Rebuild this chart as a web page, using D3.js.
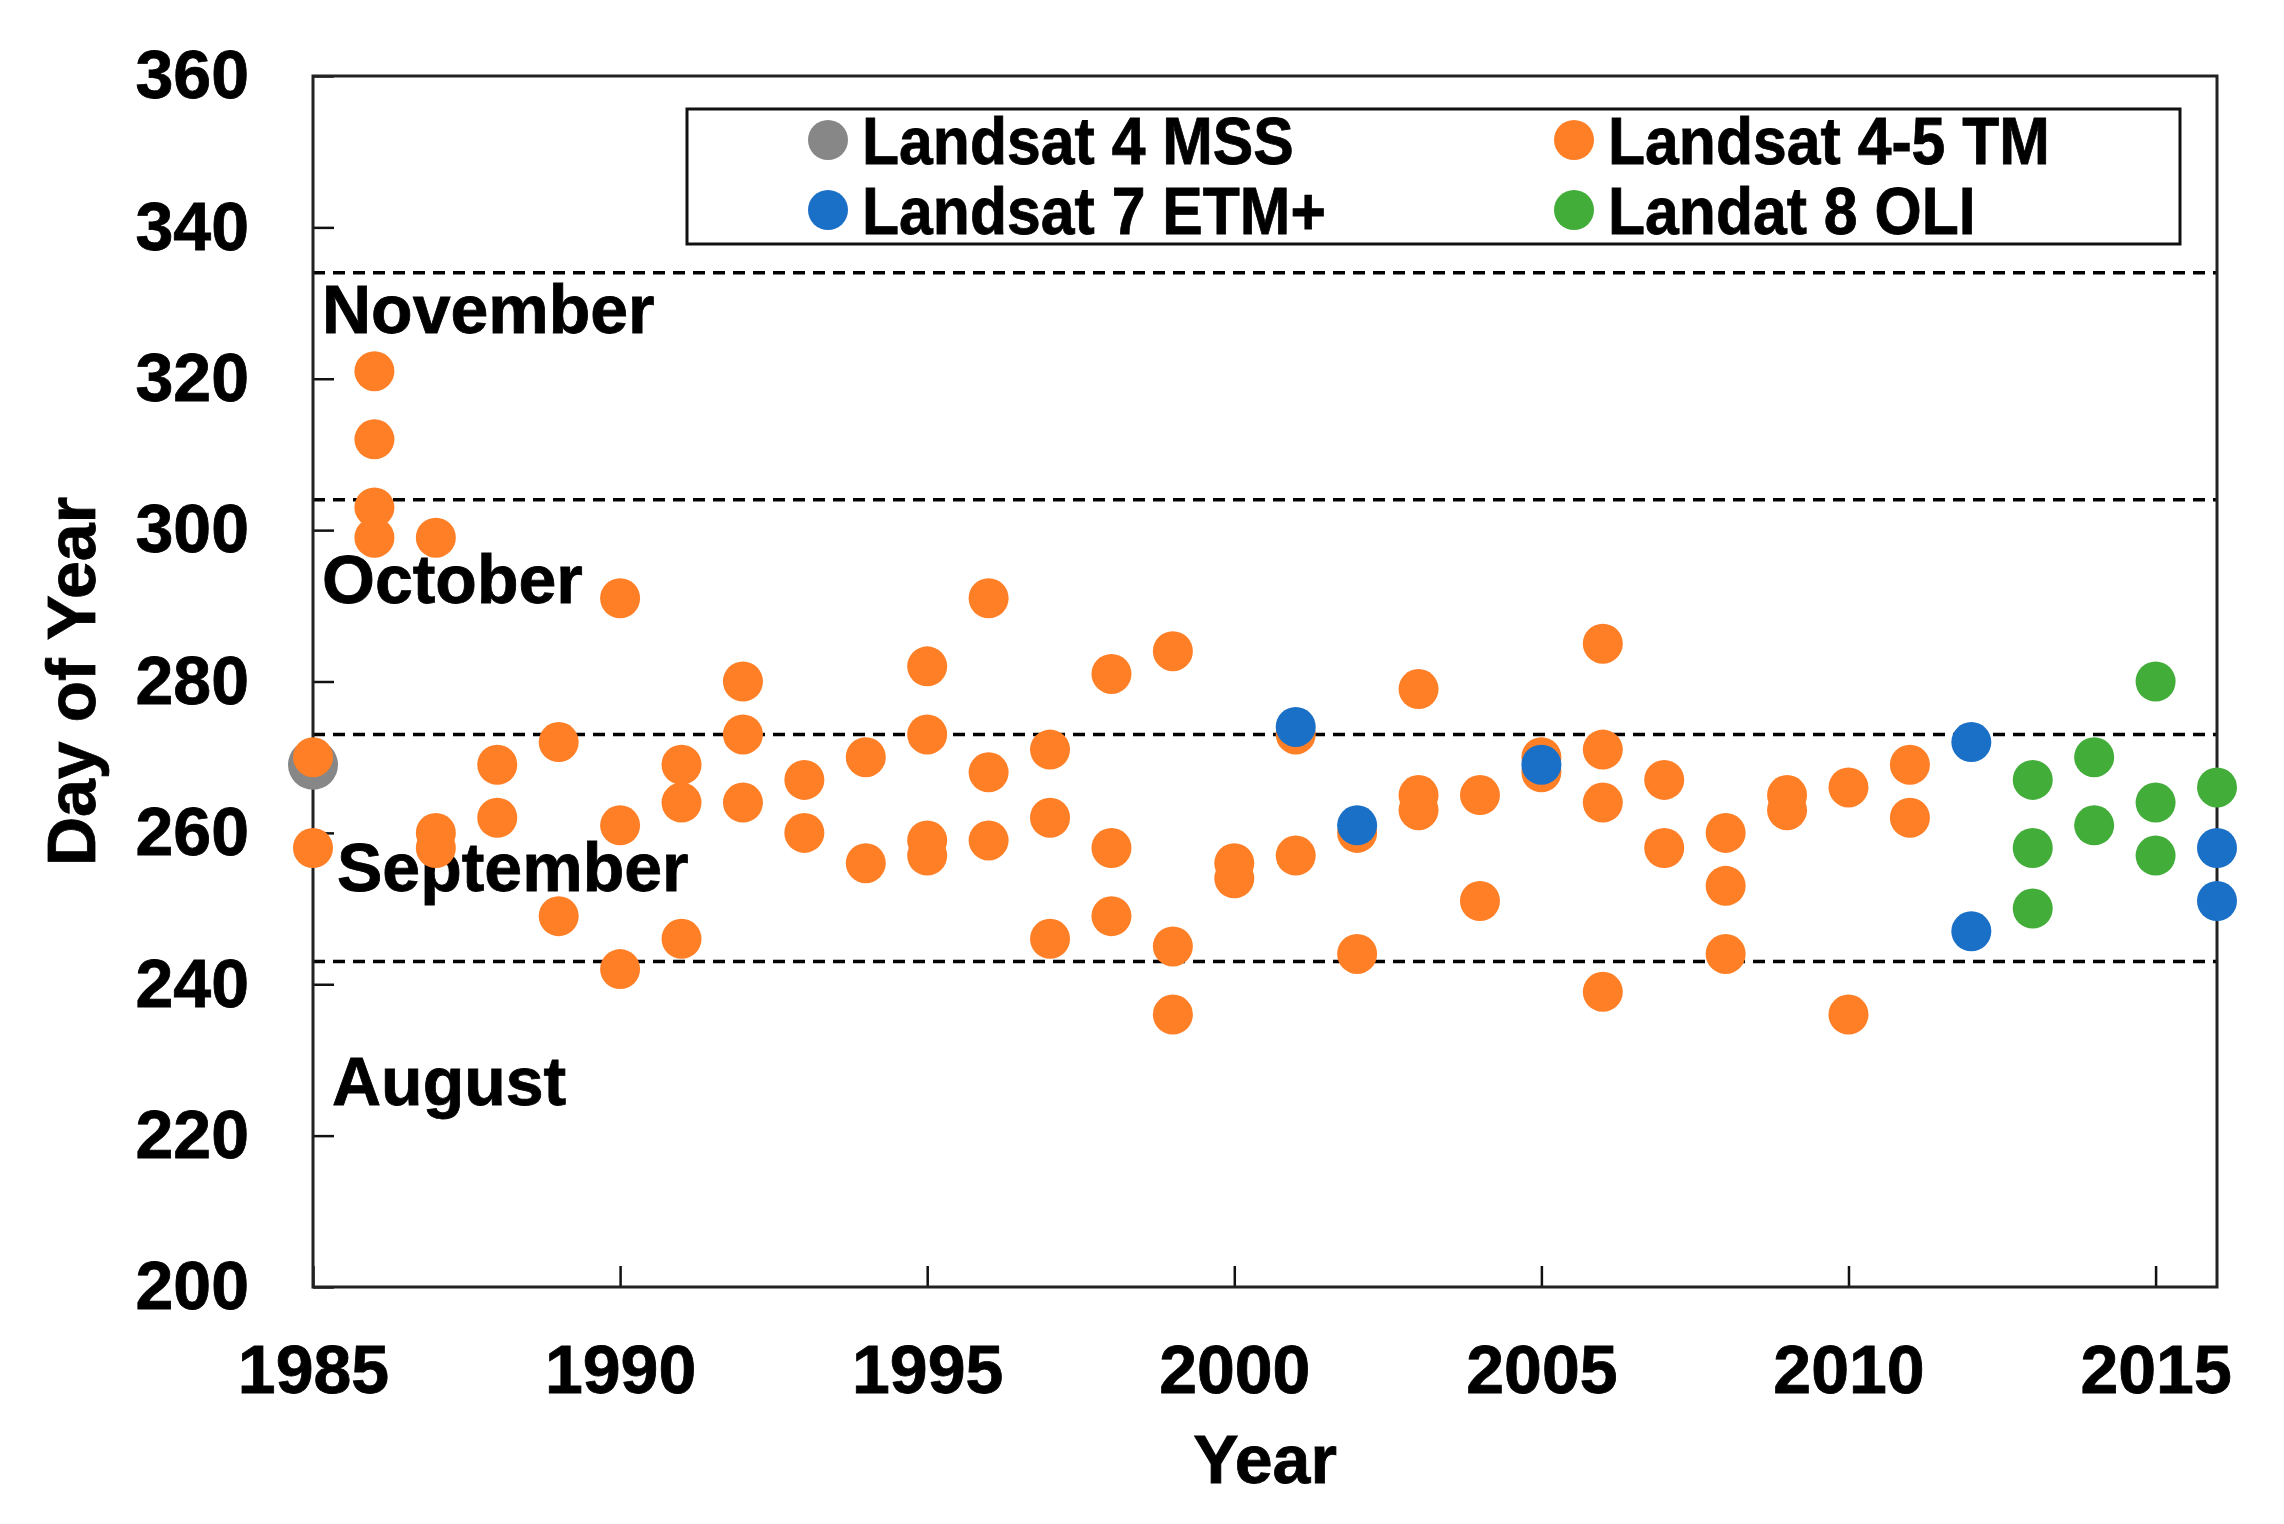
<!DOCTYPE html>
<html>
<head>
<meta charset="utf-8">
<script src="https://cdn.jsdelivr.net/npm/d3@7"></script>
<style>
  body { margin: 0; background: #fff; }
  text { font-family: "Liberation Sans", Arial, sans-serif; font-weight: bold; fill: #000; }
</style>
</head>
<body>
<svg id="chart" width="2284" height="1524"></svg>
<script>
// day of year of each scene, per sensor  [year, day]
const mss = [[1985, 269]];
const tm = [
  [1985, 270], [1985, 258],
  [1986, 321], [1986, 312], [1986, 303], [1986, 299],
  [1987, 299], [1987, 260], [1987, 258],
  [1988, 269], [1988, 262],
  [1989, 272], [1989, 249],
  [1990, 291], [1990, 261], [1990, 242],
  [1991, 269], [1991, 264], [1991, 246],
  [1992, 280], [1992, 273], [1992, 264],
  [1993, 267], [1993, 260],
  [1994, 270], [1994, 256],
  [1995, 282], [1995, 273], [1995, 259], [1995, 257],
  [1996, 291], [1996, 268], [1996, 259],
  [1997, 271], [1997, 262], [1997, 246],
  [1998, 281], [1998, 258], [1998, 249],
  [1999, 284], [1999, 245], [1999, 236],
  [2000, 256], [2000, 254],
  [2001, 273], [2001, 257],
  [2002, 260], [2002, 244],
  [2003, 279], [2003, 265], [2003, 263],
  [2004, 265], [2004, 251],
  [2005, 270], [2005, 268],
  [2006, 285], [2006, 271], [2006, 264], [2006, 239],
  [2007, 267], [2007, 258],
  [2008, 260], [2008, 253], [2008, 244],
  [2009, 265], [2009, 263],
  [2010, 266], [2010, 236],
  [2011, 269], [2011, 262]
];
const etm = [[2001, 274], [2002, 261], [2005, 269], [2012, 272], [2012, 247], [2016, 258], [2016, 251]];
const oli = [
  [2013, 267], [2013, 258], [2013, 250],
  [2014, 270], [2014, 261],
  [2015, 280], [2015, 264], [2015, 257],
  [2016, 266]
];

const seriesNames = ["Landsat 4 MSS", "Landsat 4-5 TM", "Landsat 7 ETM+", "Landat 8 OLI"];
const seriesColors = ["#878787", "#ff7f27", "#1a70c6", "#43ad3a"];

// month boundaries (last day of Aug, Sep, Oct, Nov)
const monthEnds = [243, 273, 304, 334];
const monthNames = ["November", "October", "September", "August"];
const monthLabelDays = [326, 290.4, 252.3, 224];

const xTicks = [1985, 1990, 1995, 2000, 2005, 2010, 2015];
const yTicks = [200, 220, 240, 260, 280, 300, 320, 340, 360];

const svg = d3.select("#chart");
const margin = { top: 76, right: 67, bottom: 237, left: 313 };
const width = +svg.attr("width"), height = +svg.attr("height");

const x = d3.scaleLinear().domain([1985, 2016]).range([margin.left, width - margin.right]);
const y = d3.scaleLinear().domain([200, 360]).range([height - margin.bottom, margin.top]);

svg.append("rect").attr("width", width).attr("height", height).attr("fill", "#fff");

// dashed month boundaries
svg.append("g")
  .selectAll("line")
  .data(monthEnds)
  .enter()
  .append("line")
  .attr("x1", x(1985)).attr("x2", x(2016))
  .attr("y1", (d) => y(d)).attr("y2", (d) => y(d))
  .attr("stroke", "#000")
  .attr("stroke-width", 3.5)
  .attr("stroke-dasharray", "12,8");

// month labels
const monthDx = [9, 9, 24, 19];
svg.append("g")
  .selectAll("text")
  .data(monthNames)
  .enter()
  .append("text")
  .attr("x", (d, i) => x(1985) + monthDx[i])
  .attr("y", (d, i) => y(monthLabelDays[i]))
  .attr("font-size", 68)
  .attr("stroke", "#000")
  .attr("stroke-width", 0.8)
  .text((d) => d);

// axes
const xAxis = svg.append("g")
  .attr("transform", `translate(0,${y(200)})`)
  .call(d3.axisBottom(x).tickValues(xTicks).tickFormat(d3.format("d")).tickSize(-21).tickSizeOuter(0).tickPadding(58));
const yAxis = svg.append("g")
  .attr("transform", `translate(${x(1985)},0)`)
  .call(d3.axisLeft(y).tickValues(yTicks).tickSize(-21).tickSizeOuter(0).tickPadding(64));

[xAxis, yAxis].forEach((a) => {
  a.select(".domain").remove();
  a.selectAll(".tick line").attr("stroke", "#111").attr("stroke-width", 2.5);
  a.selectAll(".tick text")
    .attr("font-size", 68)
    .attr("font-family", "'Liberation Sans', Arial, sans-serif")
    .attr("font-weight", "bold")
    .attr("fill", "#000")
    .attr("stroke", "#000")
    .attr("stroke-width", 0.8);
});

// frame
svg.append("rect")
  .attr("x", x(1985)).attr("y", y(360))
  .attr("width", x(2016) - x(1985)).attr("height", y(200) - y(360))
  .attr("fill", "none")
  .attr("stroke", "#222")
  .attr("stroke-width", 3);

// axis titles
svg.append("text")
  .attr("transform", `translate(95,${(y(200) + y(360)) / 2}) rotate(-90)`)
  .attr("text-anchor", "middle")
  .attr("font-size", 68)
  .attr("stroke", "#000")
  .attr("stroke-width", 0.8)
  .text("Day of Year");
svg.append("text")
  .attr("x", (x(1985) + x(2016)) / 2)
  .attr("y", 1483)
  .attr("text-anchor", "middle")
  .attr("font-size", 68)
  .attr("stroke", "#000")
  .attr("stroke-width", 0.8)
  .text("Year");

// points
const series = [mss, tm, etm, oli];
const radius = [25, 20, 20, 20];
const dots = svg.append("g");
series.forEach((s, i) => {
  dots.append("g")
    .selectAll("circle")
    .data(s)
    .enter()
    .append("circle")
    .attr("cx", (d) => x(d[0]))
    .attr("cy", (d) => y(d[1]))
    .attr("r", radius[i])
    .attr("fill", seriesColors[i]);
});

// legend
const legend = svg.append("g");
legend.append("rect")
  .attr("x", 687).attr("y", 109)
  .attr("width", 1493).attr("height", 135)
  .attr("fill", "#fff")
  .attr("stroke", "#111")
  .attr("stroke-width", 3);
const legendPos = [[828, 140], [1574, 140], [828, 210], [1574, 210]];
seriesNames.forEach((name, i) => {
  const [lx, ly] = legendPos[i];
  const item = legend.append("g").attr("transform", `translate(${lx},${ly})`);
  item.append("circle").attr("r", 20).attr("fill", seriesColors[i]);
  item.append("text")
    .attr("transform", "translate(34,24) scale(0.92,1)")
    .attr("font-size", 66)
    .attr("stroke", "#000")
    .attr("stroke-width", 0.8)
    .text(name);
});
</script>
</body>
</html>
